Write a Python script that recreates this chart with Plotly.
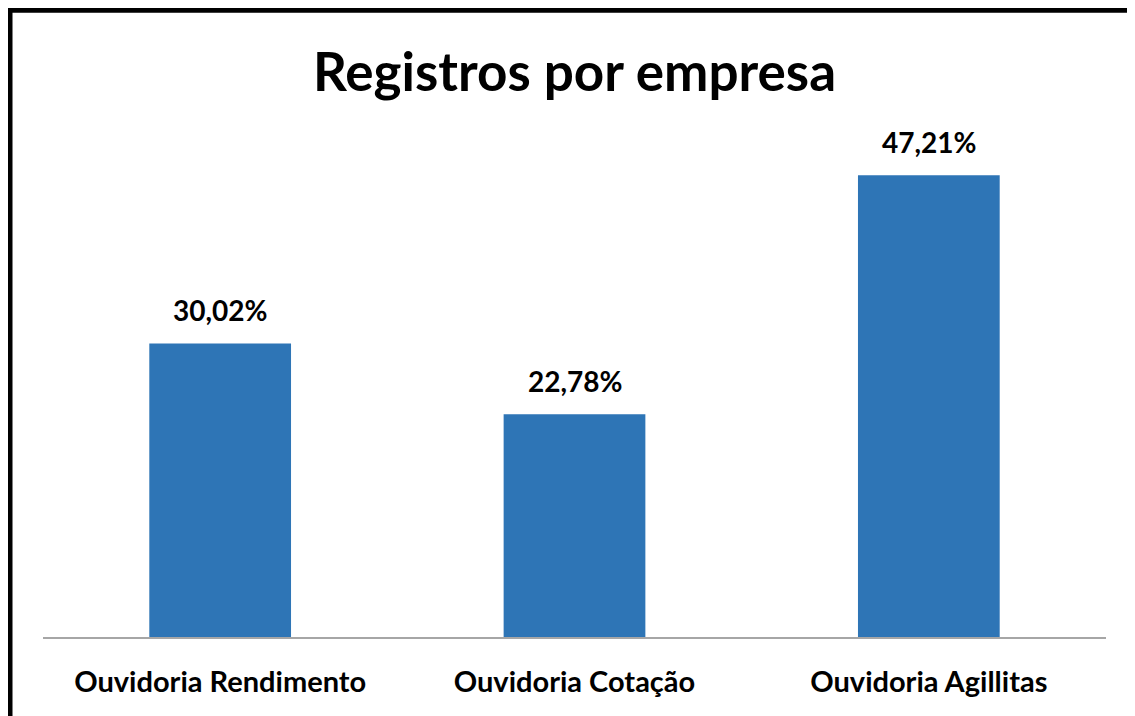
import plotly.graph_objects as go

categories = ["Ouvidoria Rendimento", "Ouvidoria Cotação", "Ouvidoria Agillitas"]
values = [30.02, 22.78, 47.21]
labels = ["30,02%", "22,78%", "47,21%"]

W, H = 1135, 716
OFF = 8  # page body margin
L, R, T, B = 43 - OFF, 1106 - OFF, 147.5 - OFF, 637 - OFF

fig = go.Figure()
fig.add_trace(go.Bar(x=categories, y=values, marker=dict(color="#2E75B6", line=dict(width=0)),
                     width=0.4, hoverinfo="skip"))

for c, v, t in zip(categories, values, labels):
    fig.add_annotation(x=c, y=v, text=t, showarrow=False, yanchor="bottom", yshift=14,
                       font=dict(family="Lato", size=28, color="black", weight="bold"))

def px_x(p):
    return (p - OFF - L) / (R - L)

def px_y(p):
    return (B - (p - OFF)) / (B - T)

fig.add_shape(type="rect", xref="paper", yref="paper",
              x0=px_x(9.5), x1=px_x(1250), y0=px_y(9), y1=px_y(850),
              line=dict(color="black", width=6), fillcolor="rgba(0,0,0,0)", layer="above")

fig.add_annotation(xref="paper", yref="paper", x=px_x(574), y=px_y(70), text="<b>Registros por empresa</b>",
                   showarrow=False, xanchor="center", yanchor="middle",
                   font=dict(family="Lato", size=53, color="black"))

fig.update_layout(
    width=W, height=H, margin=dict(l=L, r=W - R, t=T, b=H - B),
    paper_bgcolor="white", plot_bgcolor="white", showlegend=False,
    xaxis=dict(showline=True, linecolor="#A6A6A6", linewidth=2, ticks="", showgrid=False,
               tickfont=dict(family="Lato", size=29, color="black", weight="bold"),
               ticklabelstandoff=18),
    yaxis=dict(range=[0, 50], visible=False, showgrid=False, zeroline=False),
)

fig.write_html("out.html")
